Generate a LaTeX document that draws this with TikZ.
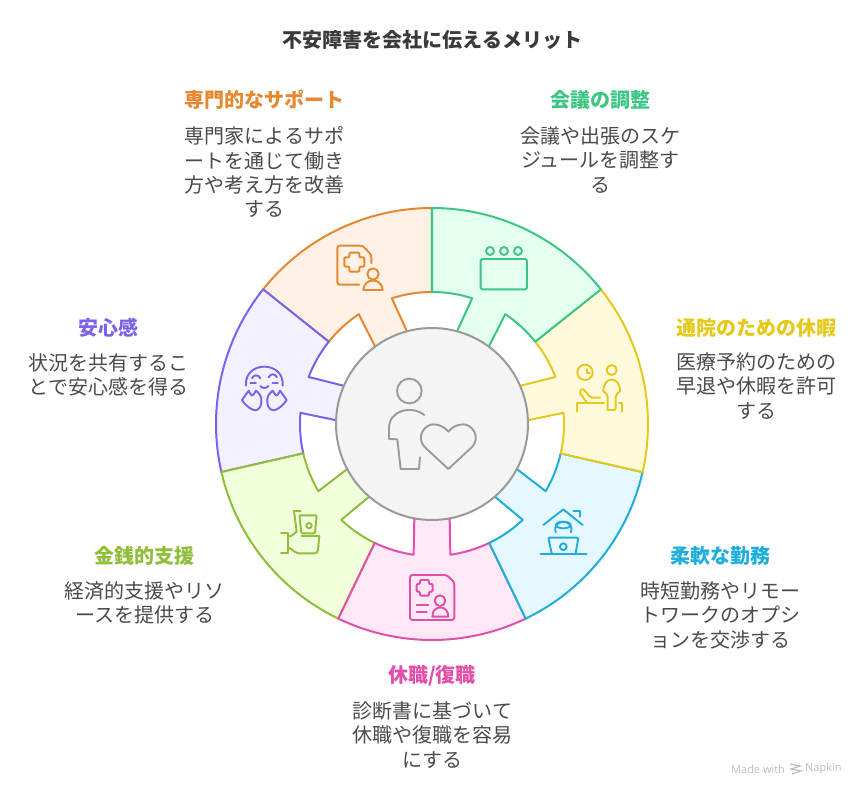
\documentclass[tikz,border=0pt]{standalone}
\usepackage{fontspec}
\setmainfont{Noto Sans CJK JP}
\newfontfamily\wmfont{Open Sans}
\definecolor{cO}{HTML}{E5882F}\definecolor{fO}{HTML}{FFF1E5}
\definecolor{cG}{HTML}{3CC583}\definecolor{fG}{HTML}{E3FFF0}
\definecolor{cY}{HTML}{E6C81A}\definecolor{fY}{HTML}{FFFADB}
\definecolor{cB}{HTML}{1EAEDB}\definecolor{fB}{HTML}{E6F8FF}
\definecolor{cP}{HTML}{E24FA8}\definecolor{fP}{HTML}{FFE8F6}
\definecolor{cL}{HTML}{90BE3A}\definecolor{fL}{HTML}{F1FFDB}
\definecolor{cV}{HTML}{7B61EB}\definecolor{fV}{HTML}{F3F1FF}
\definecolor{cC}{HTML}{9A9A9A}\definecolor{fC}{HTML}{F4F4F4}
\definecolor{tBody}{HTML}{4A4A4A}\definecolor{tTitle}{HTML}{3A3A3A}
\definecolor{wm}{HTML}{BDBDBD}
\newcommand{\wedgeseg}[4]{%
  \pgfmathsetmacro{\mm}{(#3+#4)/2}%
  \pgfmathsetmacro{\ma}{\mm-8}\pgfmathsetmacro{\mb}{\mm+8}%
  \pgfmathsetmacro{\mc}{\mm-10.6}\pgfmathsetmacro{\md}{\mm+10.6}%
  \draw[line width=2bp,line join=round,draw=#1,fill=#2]
    (#3:216) arc[start angle=#3,end angle=#4,radius=216]
    -- (#4:132) arc[start angle=#4,end angle=\ma,radius=132]
    -- (\mc:96) -- (\md:96) -- (\mb:132)
    arc[start angle=\mb,end angle=#3,radius=132] -- cycle;}
\tikzset{
  heading/.style={font=\fontsize{20bp}{24bp}\selectfont\bfseries,anchor=center,inner sep=0pt},
  bodytext/.style={font=\fontsize{20bp}{24.3bp}\selectfont,text=tBody,align=center,anchor=center,inner sep=0pt},
  ico/.style={line width=1.9bp,line join=round,line cap=round},
}
\begin{document}
\begin{tikzpicture}[x=1bp,y=1bp]
\useasboundingbox (-432,-373) rectangle (432,424);
\wedgeseg{cO}{fO}{141.43}{90}
\wedgeseg{cV}{fV}{192.86}{141.43}
\wedgeseg{cL}{fL}{244.29}{192.86}
\wedgeseg{cP}{fP}{295.71}{244.29}
\wedgeseg{cB}{fB}{347.14}{295.71}
\wedgeseg{cY}{fY}{398.57}{347.14}
\wedgeseg{cG}{fG}{450}{398.57}
\node[circle,minimum size=192bp,inner sep=0pt,draw=cC,fill=fC,line width=2bp] (hub) at (0,0) {};
\begin{scope}[shift={(-432,424)},yscale=-1]
% texts
\node[heading,text=tTitle] (title) at (432.5,39.7) {不安障害を会社に伝えるメリット};
\node[heading,text=cO] (hO) at (264.7,99.7) {専門的なサポート};
\node[bodytext] (bO) at (264.7,172.4) {専門家によるサポ\\ートを通じて働き\\方や考え方を改善\\する};
\node[heading,text=cG] (hG) at (600,99.7) {会議の調整};
\node[bodytext] (bG) at (600.3,160) {会議や出張のスケ\\ジュールを調整す\\る};
\node[heading,text=cY] (hY) at (756,327.7) {通院のための休暇};
\node[bodytext] (bY) at (756.3,386) {医療予約のための\\早退や休暇を許可\\する};
\node[heading,text=cB] (hB) at (720,555.7) {柔軟な勤務};
\node[bodytext] (bB) at (720.3,615.3) {時短勤務やリモー\\トワークのオプシ\\ョンを交渉する};
\node[heading,text=cP] (hP) at (432,675.7) {休職/復職};
\node[bodytext] (bP) at (432.5,735) {診断書に基づいて\\休職や復職を容易\\にする};
\node[heading,text=cL] (hL) at (144.6,555.7) {金銭的支援};
\node[bodytext] (bL) at (144.8,603) {経済的支援やリソ\\ースを提供する};
\node[heading,text=cV] (hV) at (108.6,327.7) {安心感};
\node[bodytext] (bV) at (108.6,375) {状況を共有するこ\\とで安心感を得る};
\node[font=\wmfont\fontsize{11bp}{12bp}\selectfont,text=wm,anchor=west,inner sep=0pt] (wm1) at (731,769) {Made with};
\node[font=\wmfont\fontsize{11bp}{12bp}\selectfont,text=wm,anchor=west,inner sep=0pt] (wm2) at (805,769) {Napkin};
\draw[wm,line width=1.2bp] (790,764)--(800,766)--(791,769)--(801,771)--(792,774);
% orange icon
\begin{scope}[shift={(210,200)},scale=1/3,ico]
\draw[cO,rounded corners=2.5bp] (448,254)--(382,254)--(382,137)--(458,137)--(484,165)--(484,190);
\draw[cO,rounded corners=1bp] (418,158)--(448,158)--(448,172)--(463,172)--(463,200)--(448,200)--(448,215)--(418,215)--(418,200)--(403,200)--(403,172)--(418,172)--cycle;
\draw[cO] (489,222) circle[radius=17];
\draw[cO] (460,270) .. controls (462,232) and (516,232) .. (518,270) -- cycle;
\end{scope}
% green icon
\begin{scope}[shift={(430,200)},scale=1/3,ico]
\draw[cG] (180,153) circle[radius=12] (222,153) circle[radius=12] (264,153) circle[radius=12];
\draw[cG,rounded corners=1.5bp] (152,177) rectangle (291,268);
\end{scope}
% yellow icon
\begin{scope}[shift={(570,355)},scale=1/3,ico]
\draw[cY] (45,52) circle[radius=23] (125,45) circle[radius=15];
\draw[cY] (50,43)--(50,53)--(60,53);
\draw[cY,rounded corners=2bp] (113,165)--(113,120)--(100,108);
\draw[cY] (100,108) .. controls (100,62) and (150,62) .. (150,108);
\draw[cY,rounded corners=2bp] (150,108)--(137,120)--(137,165)--(113,165);
\draw[cY] (20,170)--(20,145)--(102,145);
\draw[cY,rounded corners=2bp] (50,142)--(27,110)--(38,100)--(62,128)--(90,128);
\draw[cY] (147,145)--(155,145)--(155,170);
\end{scope}
% blue icon
\begin{scope}[shift={(535,500)},scale=1/3,ico]
\draw[cB] (25,75)--(85,28)--(143,75);
\draw[cB] (115,32)--(135,32)--(135,50);
\draw[cB] (62,97) .. controls (50,55) and (120,55) .. (108,97);
\draw[cB] (85,75) ellipse[x radius=22,y radius=10];
\draw[cB,rounded corners=1bp] (50,160)--(40,113)--(130,113)--(122,160);
\draw[cB] (17,163)--(155,163);
\draw[cB] (85,140) circle[radius=10];
\end{scope}
% pink icon
\begin{scope}[shift={(400,565)},scale=1/3,ico]
\draw[cP,rounded corners=2.5bp] (30,165)--(30,30)--(140,30)--(163,52)--(163,165)--cycle;
\draw[cP,rounded corners=1bp] (60,45)--(87,45)--(87,57)--(98,57)--(98,80)--(87,80)--(87,92)--(60,92)--(60,80)--(50,80)--(50,57)--(60,57)--cycle;
\draw[cP] (50,120)--(85,120) (50,140)--(80,140);
\draw[cP] (120,107) circle[radius=16];
\draw[cP] (97,155) .. controls (97,118) and (145,118) .. (145,155) -- cycle;
\end{scope}
% lime icon
\begin{scope}[shift={(270,500)},scale=1/3,ico]
\draw[cL] (92,33)--(72,33)--(80,95);
\draw[cL,rounded corners=1bp] (88,46)--(140,46)--(135,100)--(94,100)--cycle;
\draw[cL] (117,77) circle[radius=8];
\draw[cL] (33,98)--(54,98)--(54,158)--(33,158);
\draw[cL] (54,110)--(65,107)--(80,95);
\draw[cL] (95,108)--(148,108);
\draw[cL,rounded corners=3bp] (148,108)--(143,160)--(85,160);
\draw[cL] (85,160) .. controls (72,158) and (66,145) .. (54,143);
\end{scope}
% purple icon
\begin{scope}[shift={(232,355)},scale=1/3,ico]
\draw[cV] (42,92) .. controls (36,16) and (158,16) .. (152,92);
\draw[cV] (60,70) .. controls (65,58) and (80,58) .. (85,70);
\draw[cV] (110,67) .. controls (115,55) and (130,55) .. (135,67);
\draw[cV] (55,85)--(72,85) (122,85)--(138,85);
\draw[cV] (85,93) .. controls (90,101) and (104,101) .. (109,93);
\draw[cV] (30,135) -- (50,107) .. controls (55,112) and (55,122) .. (60,122) .. controls (65,122) and (68,110) .. (72,107) .. controls (82,115) and (90,125) .. (88,140) .. controls (88,165) and (70,170) .. (60,163) .. controls (50,158) and (38,148) .. (30,135) -- cycle;
\draw[cV] (164,135) -- (144,107) .. controls (139,112) and (139,122) .. (134,122) .. controls (129,122) and (126,110) .. (122,107) .. controls (112,115) and (104,125) .. (106,140) .. controls (106,165) and (124,170) .. (134,163) .. controls (144,158) and (156,148) .. (164,135) -- cycle;
\end{scope}
% centre icon
\begin{scope}[shift={(370,360)},scale=1/3,ico]
\draw[cC] (118,93) circle[radius=37];
\draw[cC] (163,165) .. controls (125,135) and (57,150) .. (57,205) -- (57,237) -- (82,238) -- (92,327) -- (147,327) -- (150,292);
\draw[cC] (235,327) -- (165,262) .. controls (135,230) and (165,193) .. (190,193) .. controls (210,193) and (225,203) .. (235,215) .. controls (245,203) and (260,193) .. (280,193) .. controls (305,193) and (335,230) .. (305,262) -- cycle;
\end{scope}
\end{scope}
\end{tikzpicture}
\end{document}
